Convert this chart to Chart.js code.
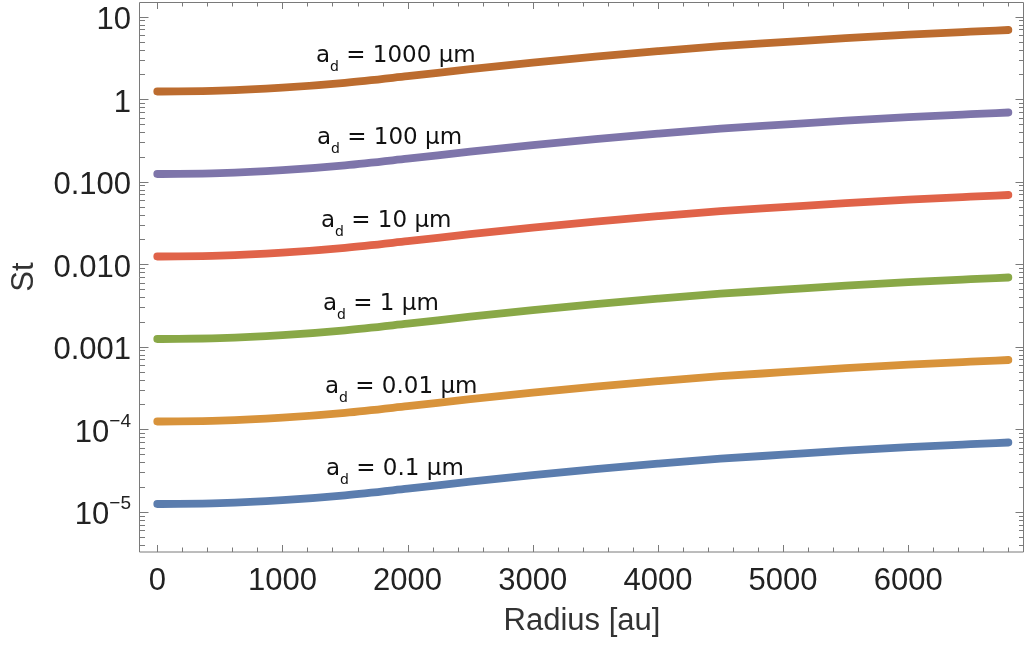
<!DOCTYPE html>
<html>
<head>
<meta charset="utf-8">
<script src="https://cdn.jsdelivr.net/npm/chart.js@4.4.1/dist/chart.umd.min.js"></script>
<style>
  html, body { margin: 0; padding: 0; background: #fff; }
  #wrap { width: 1024px; height: 648px; }
</style>
</head>
<body>
<div id="wrap"><canvas id="myChart" width="1024" height="648"></canvas></div>
<script>
// radius grid [au]
var radius = [0, 500, 1000, 1500, 2000, 2500, 3000, 3500, 4000, 4500, 5000, 5500, 6000, 6500, 6800];

// Stokes number per grain size
var st1000 = [1.24, 1.27, 1.38, 1.58, 1.90, 2.31, 2.77, 3.28, 3.82, 4.39, 4.91, 5.49, 6.05, 6.58, 6.90];
var st100 = [0.124, 0.127, 0.138, 0.158, 0.190, 0.231, 0.277, 0.328, 0.382, 0.439, 0.491, 0.549, 0.605, 0.658, 0.690];
var st10 = [0.0124, 0.0127, 0.0138, 0.0158, 0.0190, 0.0231, 0.0277, 0.0328, 0.0382, 0.0439, 0.0491, 0.0549, 0.0605, 0.0658, 0.0690];
var st1 = [1.24e-3, 1.27e-3, 1.38e-3, 1.58e-3, 1.90e-3, 2.31e-3, 2.77e-3, 3.28e-3, 3.82e-3, 4.39e-3, 4.91e-3, 5.49e-3, 6.05e-3, 6.58e-3, 6.90e-3];
var st001 = [1.24e-4, 1.27e-4, 1.38e-4, 1.58e-4, 1.90e-4, 2.31e-4, 2.77e-4, 3.28e-4, 3.82e-4, 4.39e-4, 4.91e-4, 5.49e-4, 6.05e-4, 6.58e-4, 6.90e-4];
var st01 = [1.24e-5, 1.27e-5, 1.38e-5, 1.58e-5, 1.90e-5, 2.31e-5, 2.77e-5, 3.28e-5, 3.82e-5, 4.39e-5, 4.91e-5, 5.49e-5, 6.05e-5, 6.58e-5, 6.90e-5];

var grainSizes = ['1000', '100', '10', '1', '0.01', '0.1'];
var series = [st1000, st100, st10, st1, st001, st01];
var colors = ['#bc6c2f', '#7e75aa', '#e06349', '#89a847', '#d8933b', '#5b7dae'];

// y tick labels, one per decade
var decades = [1, 0, -1, -2, -3, -4, -5];
var decadeText = ['10', '1', '0.100', '0.010', '0.001', '10^−4', '10^−5'];

// where each "a_d = ..." note sits (left edge radius, baseline St)
var notes = [
  { size: '1000', r: 1268, st: 2.83 },
  { size: '100', r: 1276, st: 0.287 },
  { size: '10', r: 1308, st: 0.0283 },
  { size: '1', r: 1324, st: 0.00279 },
  { size: '0.01', r: 1340, st: 2.75e-4 },
  { size: '0.1', r: 1348, st: 2.79e-5 }
];

var TICK_FONT = 'Liberation Sans';

function toPoints(ys) {
  return radius.map(function (r, i) { return { x: r, y: ys[i] }; });
}

// frame, inward ticks and the y labels
var frameTicks = {
  id: 'frameTicks',
  afterDraw: function (chart) {
    var ctx = chart.ctx, a = chart.chartArea;
    var xs = chart.scales.x, ys = chart.scales.y;
    ctx.save();
    ctx.strokeStyle = '#7a7a7a';
    ctx.lineWidth = 1;
    ctx.beginPath();
    ctx.rect(a.left - 0.5, a.top + 0.5, a.right - a.left, a.bottom - a.top - 0.5);
    ctx.stroke();

    ctx.beginPath();
    ys.ticks.forEach(function (t) {
      var p = Math.round(ys.getPixelForValue(t.value)) + 0.5;
      var len = t.major ? 8.5 : 5;
      ctx.moveTo(a.left, p); ctx.lineTo(a.left + len, p);
      ctx.moveTo(a.right, p); ctx.lineTo(a.right - len, p);
    });
    xs.ticks.forEach(function (t) {
      var p = Math.round(xs.getPixelForValue(t.value)) + 0.5;
      var len = t.value % 1000 === 0 ? 7 : 4.5;
      ctx.moveTo(p, a.bottom); ctx.lineTo(p, a.bottom - len);
      ctx.moveTo(p, a.top); ctx.lineTo(p, a.top + len);
    });
    ctx.stroke();

    ctx.fillStyle = '#222';
    ctx.textBaseline = 'alphabetic';
    decades.forEach(function (k, i) {
      var py = ys.getPixelForValue(Math.pow(10, k)) + 12.5;
      var txt = decadeText[i];
      var right = a.left - 9;
      if (txt.indexOf('^') >= 0) {
        var parts = txt.split('^');
        ctx.font = '19px "' + TICK_FONT + '"';
        ctx.textAlign = 'right';
        ctx.fillText(parts[1], right, py - 15);
        var w = ctx.measureText(parts[1]).width;
        ctx.font = '31px "' + TICK_FONT + '"';
        ctx.fillText(parts[0], right - w, py);
      } else {
        ctx.font = '31px "' + TICK_FONT + '"';
        ctx.textAlign = 'right';
        ctx.fillText(txt, right, py);
      }
    });
    ctx.restore();
  }
};

// "a_d = N µm" notes next to the curves
var sizeNotes = {
  id: 'sizeNotes',
  afterDatasetsDraw: function (chart) {
    var ctx = chart.ctx, xs = chart.scales.x, ys = chart.scales.y;
    ctx.save();
    ctx.fillStyle = '#111';
    ctx.textAlign = 'left';
    ctx.textBaseline = 'alphabetic';
    notes.forEach(function (n) {
      var x = xs.getPixelForValue(n.r);
      var y = ys.getPixelForValue(n.st);
      ctx.font = '23px "DejaVu Sans"';
      ctx.fillText('a', x, y);
      x += ctx.measureText('a').width;
      ctx.font = '14px "DejaVu Sans"';
      ctx.fillText('d', x, y + 9.5);
      x += ctx.measureText('d').width;
      ctx.font = '23px "DejaVu Sans"';
      ctx.fillText(' = ' + n.size + ' \u00b5m', x, y);
    });
    ctx.restore();
  }
};

var ctx = document.getElementById('myChart');
var myChart = new Chart(ctx, {
  type: 'line',
  data: {
    datasets: series.map(function (s, i) {
      return {
        label: 'a_d = ' + grainSizes[i] + ' \u00b5m',
        data: toPoints(s),
        borderColor: colors[i],
        backgroundColor: colors[i],
        fill: false
      };
    })
  },
  options: {
    responsive: false,
    animation: false,
    devicePixelRatio: 1,
    layout: { padding: { top: 2, left: 0, right: 0, bottom: 0 } },
    plugins: { legend: { display: false }, tooltip: { enabled: false } },
    elements: {
      point: { radius: 0 },
      line: {
        borderWidth: 7.8,
        borderCapStyle: 'round',
        borderJoinStyle: 'round',
        cubicInterpolationMode: 'monotone'
      }
    },
    scales: {
      x: {
        type: 'linear',
        bounds: 'data',
        min: -138,
        max: 6925,
        afterFit: function (s) { s.height = 96; },
        afterBuildTicks: function (s) {
          var t = [];
          for (var v = 0; v <= 6800; v += 200) t.push({ value: v });
          s.ticks = t;
        },
        grid: { display: false },
        border: { display: false },
        ticks: {
          autoSkip: false,
          maxRotation: 0,
          padding: 3,
          color: '#222',
          font: { family: TICK_FONT, size: 31 },
          callback: function (v) { return v % 1000 === 0 ? String(v) : ''; }
        },
        title: {
          display: true,
          text: 'Radius [au]',
          color: '#333',
          font: { family: TICK_FONT, size: 31 },
          padding: { top: 0, bottom: 8 }
        }
      },
      y: {
        type: 'logarithmic',
        bounds: 'data',
        min: 3.25e-6,
        max: 15.07,
        afterFit: function (s) { s.width = 140; },
        afterBuildTicks: function (s) {
          var t = [];
          for (var k = -6; k <= 1; k++) {
            for (var m = 1; m <= 9; m++) {
              var v = m * Math.pow(10, k);
              if (v >= s.min && v <= s.max) t.push({ value: v, major: m === 1 });
            }
          }
          s.ticks = t;
        },
        grid: { display: false },
        border: { display: false },
        ticks: { display: false },
        title: {
          display: true,
          text: 'St',
          color: '#333',
          font: { family: TICK_FONT, size: 31 },
          padding: { top: 6, bottom: 0 }
        }
      }
    }
  },
  plugins: [frameTicks, sizeNotes]
});
</script>
</body>
</html>
